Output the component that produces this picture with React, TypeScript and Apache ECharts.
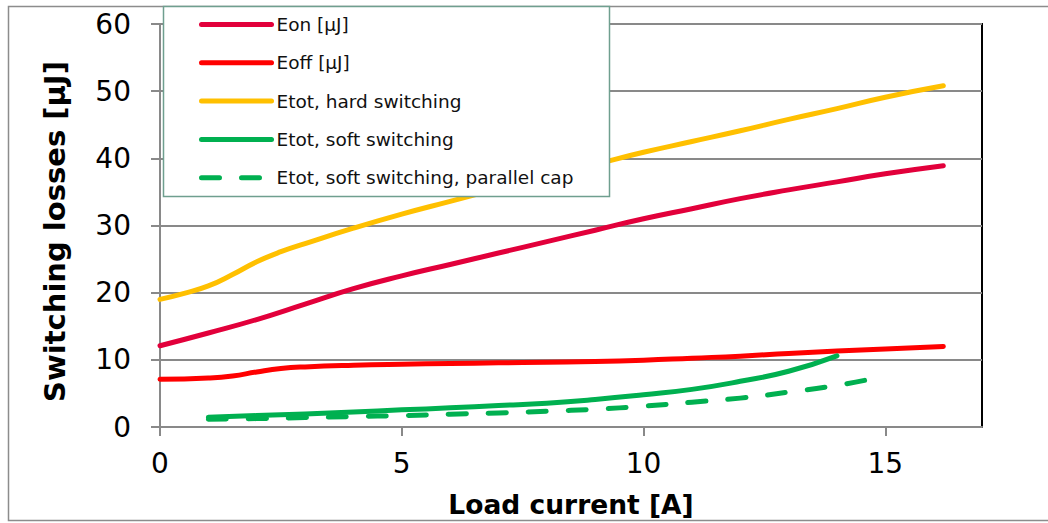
import React, { useEffect, useRef } from "react";
import * as echarts from "echarts";

const xTicks = [0, 5, 10, 15];

const eonX = [0, 1, 2, 3, 4, 5, 6, 7, 8, 9, 10, 11, 12, 13, 14, 15, 16.2];
const eonY = [12.1, 14.0, 16.0, 18.3, 20.6, 22.5, 24.2, 25.9, 27.6, 29.3, 31.0, 32.5, 34.0, 35.3, 36.5, 37.7, 38.9];

const eoffX = [0, 1, 1.5, 2, 2.5, 3, 4, 5, 6, 7, 8, 9, 10, 11, 12, 13, 14, 15, 16.2];
const eoffY = [7.1, 7.3, 7.6, 8.2, 8.7, 8.95, 9.2, 9.35, 9.45, 9.55, 9.65, 9.75, 9.95, 10.25, 10.55, 10.95, 11.3, 11.6, 12.0];

const hardX = [0, 0.5, 1, 1.5, 2, 2.5, 3, 4, 5, 6, 7, 8, 9, 10, 11, 12, 13, 14, 15, 16.2];
const hardY = [19.0, 19.9, 21.0, 22.7, 24.6, 26.1, 27.3, 29.6, 31.7, 33.6, 35.5, 37.3, 39.1, 40.9, 42.5, 44.1, 45.8, 47.4, 49.1, 50.8];

const softX = [1, 2, 3, 4, 5, 6, 7, 8, 9, 10, 11, 12, 13, 14];
const softY = [1.45, 1.7, 1.95, 2.25, 2.55, 2.85, 3.2, 3.55, 4.1, 4.8, 5.6, 6.8, 8.3, 10.6];

const capX = [1, 2, 3, 4, 5, 6, 7, 8, 9, 10, 11, 12, 13, 14, 14.75];
const capY = [1.15, 1.25, 1.4, 1.55, 1.7, 1.9, 2.1, 2.35, 2.65, 3.1, 3.7, 4.3, 5.2, 6.2, 7.2];

const seriesNames = [
  "Eon [µJ]",
  "Eoff [µJ]",
  "Etot, hard switching",
  "Etot, soft switching",
  "Etot, soft switching, parallel cap",
];
const colors = ["#E2003B", "#FF0000", "#FFC000", "#00B050", "#00B050"];

const FONT = "'DejaVu Sans', Verdana, sans-serif";

function pairs(xs: number[], ys: number[]) {
  return xs.map((x, i) => [x, ys[i]]);
}

export default function App() {
  const ref = useRef<HTMLDivElement>(null);
  useEffect(() => {
    if (!ref.current) return;
    const chart = echarts.init(ref.current, null, { renderer: "svg" });
    const datasets = [
      pairs(eonX, eonY),
      pairs(eoffX, eoffY),
      pairs(hardX, hardY),
      pairs(softX, softY),
      pairs(capX, capY),
    ];
    chart.setOption({
      animation: false,
      backgroundColor: "#ffffff",
      textStyle: { fontFamily: FONT },
      grid: {
        left: 160,
        right: 66,
        top: 24,
        bottom: 96,
        show: true,
        borderColor: "#000000",
        borderWidth: 2,
        containLabel: false,
      },
      legend: {
        orient: "vertical",
        left: 199,
        top: 15,
        padding: 0,
        itemWidth: 70,
        itemHeight: 18,
        itemGap: 19.3,
        z: 20,
        data: seriesNames,
        textStyle: { fontFamily: FONT, fontSize: 18.5, color: "#111111" },
        lineStyle: { width: 5, cap: "round" },
        itemStyle: { opacity: 0, color: "rgba(0,0,0,0)", borderWidth: 0 },
        selectedMode: false,
      },
      graphic: [
        {
          type: "rect",
          z: 0,
          silent: true,
          shape: { x: 8.5, y: 6.5, width: 1100, height: 514 },
          style: { fill: "none", stroke: "#8c8c8c", lineWidth: 1.5 },
        },
        {
          type: "rect",
          z: 15,
          silent: true,
          shape: { x: 163.5, y: 6.5, width: 446, height: 190 },
          style: { fill: "#ffffff", stroke: "#6f9f8f", lineWidth: 1.5 },
        },
      ],
      xAxis: {
        type: "value",
        min: 0,
        max: 17,
        interval: 5,
        name: "Load current [A]",
        nameLocation: "middle",
        nameGap: 64,
        nameTextStyle: { fontFamily: FONT, fontSize: 26.5, fontWeight: "bold", color: "#000" },
        axisLine: { show: true, lineStyle: { color: "#898989", width: 2 } },
        axisTick: { show: true, length: 9, customValues: xTicks, lineStyle: { color: "#898989", width: 2 } },
        axisLabel: {
          customValues: xTicks,
          margin: 22,
          fontFamily: FONT,
          fontSize: 28,
          color: "#000",
        },
        splitLine: { show: false },
      },
      yAxis: {
        type: "value",
        min: 0,
        max: 60,
        interval: 10,
        name: "Switching losses [µJ]",
        nameLocation: "middle",
        nameGap: 91,
        nameTextStyle: {
          fontFamily: FONT,
          fontSize: 29,
          fontWeight: "bold",
          color: "#000",
          padding: [0, 12, 0, 0],
        },
        axisLine: { show: true, lineStyle: { color: "#898989", width: 2 } },
        axisTick: { show: true, length: 9, lineStyle: { color: "#898989", width: 2 } },
        axisLabel: { margin: 29, fontFamily: FONT, fontSize: 28, color: "#000" },
        splitLine: { show: true, lineStyle: { color: "#898989", width: 2 } },
      },
      series: datasets.map((d, i) => ({
        name: seriesNames[i],
        type: "line",
        data: d,
        smooth: true,
        symbol: "none",
        showSymbol: false,
        z: 3,
        color: colors[i],
        lineStyle: {
          color: colors[i],
          width: 5,
          cap: "round",
          join: "round",
          type: i === 4 ? [18, 22] : "solid",
        },
      })),
    });
    return () => chart.dispose();
  }, []);
  return (
    <div
      ref={ref}
      style={{ position: "absolute", left: 0, top: 0, width: 1048, height: 523 }}
    />
  );
}
